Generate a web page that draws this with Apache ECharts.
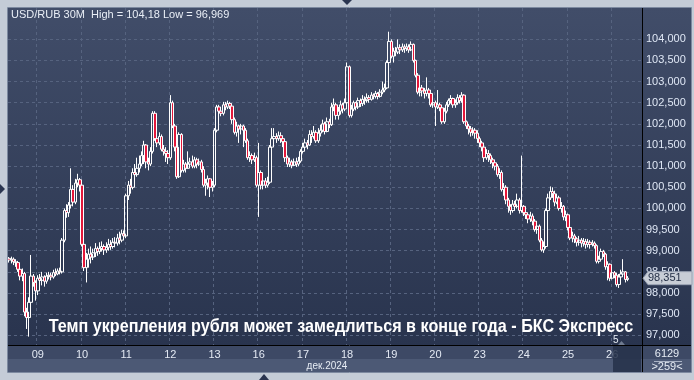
<!DOCTYPE html>
<html><head><meta charset="utf-8">
<script src="https://cdn.jsdelivr.net/npm/echarts@6/dist/echarts.min.js"></script>
<style>html,body{margin:0;padding:0;background:#c4ccd7;}#c{width:694px;height:380px;}</style>
</head><body><div id="c"></div>
<script>
// ---- data ----
const dayNames   = ['06','09','10','11','12','13','16','17','18','19','20','23','24','25','26'];
const dayCandles = [13,20,20,20,20,20,20,20,20,20,20,20,20,20,8];
const emptySlots = 6;
const firstOpen = 98.82;
const closes = [
 98.78,98.80,98.74,98.72,98.56,98.40,98.46,97.55,97.42,97.78,98.40,98.25,98.05,
 98.35,98.30,98.38,98.28,98.40,98.42,98.38,98.48,98.45,98.52,98.50,99.25,99.95,99.90,100.08,100.45,100.15,100.60,100.68,100.55,
 99.15,98.60,98.80,98.92,98.85,98.95,99.05,98.98,99.05,99.10,99.02,99.08,99.15,99.10,99.20,99.18,99.30,99.25,99.40,99.35,
 100.30,100.55,100.50,100.85,100.80,100.95,101.05,101.25,101.50,101.10,101.05,101.35,102.25,101.65,101.55,101.70,101.40,101.35,101.30,101.20,
 102.50,101.95,101.45,100.75,101.75,100.90,101.05,100.95,101.05,101.10,101.00,101.15,101.05,101.10,100.92,100.55,100.60,100.70,100.50,100.55,
 101.85,102.40,102.30,102.25,102.45,102.40,102.48,102.42,102.10,101.80,101.95,101.88,101.95,101.85,101.60,101.20,101.25,101.15,101.20,100.55,
 100.85,100.55,100.65,100.55,100.62,101.45,101.65,101.70,101.65,101.72,101.65,101.58,101.20,101.05,101.10,101.02,101.10,101.05,101.12,101.35,
 101.45,101.55,101.50,101.75,101.70,101.80,101.60,101.78,101.85,102.00,101.82,102.05,101.98,102.40,102.45,102.20,102.30,102.45,102.35,102.50,
 103.35,102.20,102.35,102.50,102.40,102.55,102.48,102.58,102.55,102.62,102.58,102.68,102.65,102.72,102.65,102.75,102.80,102.85,103.45,103.95,
 103.60,103.72,103.70,103.80,103.75,103.82,103.78,103.82,103.75,103.88,103.50,103.15,102.75,102.85,102.78,102.72,102.80,102.72,102.45,102.50,
 102.40,102.45,102.38,102.05,102.30,102.45,102.55,102.60,102.45,102.50,102.62,102.55,102.68,102.05,101.95,101.88,101.80,101.85,101.78,101.65,
 101.55,101.45,101.20,101.30,101.25,101.15,101.08,101.00,100.80,100.85,100.45,100.50,100.20,100.05,99.95,100.10,100.05,100.20,99.95,100.05,
 99.90,99.85,99.75,99.82,99.70,99.50,99.58,99.25,99.02,99.10,99.95,100.25,100.40,100.35,100.15,100.25,100.00,100.05,99.80,99.85,
 99.55,99.30,99.35,99.28,99.20,99.25,99.18,99.22,99.15,99.20,99.15,99.18,99.12,98.75,98.80,98.98,98.92,98.62,98.68,98.35,
 98.48,98.42,98.20,98.38,98.45,98.50,98.32,98.351
];
const highs = [
 98.85,98.86,98.84,98.80,98.76,98.60,98.58,98.50,97.65,97.90,98.90,98.45,98.30,
 98.42,98.45,98.50,98.42,98.48,98.50,98.48,98.55,98.58,98.58,98.60,99.30,100.00,100.10,100.15,100.95,100.55,100.70,100.82,100.72,
 100.58,99.20,98.95,99.05,99.10,99.05,99.18,99.10,99.20,99.22,99.15,99.20,99.28,99.25,99.30,99.32,99.40,99.45,99.50,99.48,
 100.35,100.65,100.70,100.95,101.05,101.20,101.25,101.35,101.60,101.52,101.20,101.45,102.30,102.30,101.75,101.80,101.75,101.50,101.45,101.38,
 102.68,102.55,102.00,101.50,101.80,101.78,101.15,101.10,101.35,101.20,101.25,101.22,101.20,101.18,101.15,101.00,100.70,100.78,100.72,100.65,
 101.90,102.45,102.45,102.40,102.52,102.52,102.55,102.52,102.48,102.15,102.05,101.98,102.00,101.98,101.90,101.65,101.35,101.30,101.32,101.25,
 101.55,100.90,100.75,100.72,100.75,101.50,101.90,101.90,101.78,101.82,101.80,101.72,101.62,101.25,101.20,101.15,101.18,101.20,101.22,101.40,
 101.55,101.65,101.62,101.85,101.85,101.95,101.85,101.90,101.98,102.10,102.05,102.15,102.12,102.50,102.60,102.50,102.40,102.55,102.50,102.60,
 103.45,103.38,102.45,102.55,102.52,102.62,102.60,102.68,102.65,102.72,102.68,102.75,102.72,102.78,102.75,102.82,103.00,102.95,103.50,104.18,
 104.00,103.80,103.82,104.00,103.88,103.90,103.88,103.90,103.88,103.95,103.90,103.52,103.20,102.95,102.92,102.85,103.10,102.85,102.78,102.60,
 102.55,102.80,102.50,102.42,102.38,102.52,102.60,102.68,102.62,102.58,102.70,102.68,102.75,102.70,102.08,102.00,101.95,101.92,101.90,101.85,
 101.70,101.60,101.50,101.40,101.38,101.30,101.20,101.15,101.05,100.95,100.90,100.60,100.55,100.25,100.10,100.20,100.18,100.35,100.25,101.25,
 100.08,100.00,99.90,99.92,99.88,99.75,99.70,99.62,99.30,99.22,100.00,100.35,100.52,100.50,100.42,100.35,100.30,100.15,100.08,99.95,
 99.88,99.60,99.45,99.40,99.32,99.35,99.30,99.30,99.28,99.28,99.25,99.25,99.22,99.15,98.88,99.05,99.02,98.95,98.75,98.70,
 98.55,98.52,98.48,98.45,98.55,98.80,98.52,98.40
];
const lows = [
 98.72,98.70,98.66,98.62,98.50,98.30,98.28,97.45,97.15,96.969,97.75,98.15,97.82,
 97.95,98.10,98.18,98.15,98.22,98.32,98.30,98.34,98.40,98.42,98.44,98.46,99.20,99.78,99.80,100.00,100.05,100.10,100.50,100.40,
 99.10,98.52,98.25,98.60,98.70,98.78,98.85,98.88,98.92,98.98,98.90,98.95,99.00,99.02,99.05,99.08,99.12,99.15,99.20,99.25,
 99.30,100.20,100.35,100.45,100.65,100.75,100.85,101.00,101.05,100.95,100.90,101.00,101.30,101.60,101.45,101.50,101.35,101.25,101.10,101.05,
 101.15,101.90,101.35,100.70,100.72,100.85,100.85,100.85,100.95,100.98,100.95,100.95,100.95,101.00,100.85,100.50,100.30,100.45,100.27,100.40,
 100.50,101.80,102.20,102.18,102.20,102.32,102.35,102.35,102.00,101.75,101.70,101.55,101.75,101.45,101.55,101.15,101.10,101.05,101.10,100.50,
 99.80,100.45,100.45,100.48,100.50,100.58,101.40,101.58,101.55,101.60,101.55,101.45,101.10,100.98,100.98,100.95,101.00,100.98,101.00,101.08,
 101.30,101.40,101.40,101.48,101.55,101.65,101.55,101.55,101.70,101.80,101.75,101.80,101.90,101.95,102.30,102.10,102.10,102.22,102.25,102.30,
 102.45,102.15,102.15,102.30,102.32,102.35,102.40,102.42,102.45,102.50,102.50,102.55,102.58,102.60,102.58,102.62,102.70,102.75,102.82,103.40,
 103.55,103.45,103.60,103.65,103.65,103.70,103.68,103.72,103.68,103.72,103.45,103.10,102.70,102.65,102.65,102.60,102.65,102.60,102.40,102.38,
 101.95,102.35,102.30,102.00,102.00,102.25,102.40,102.48,102.38,102.38,102.45,102.48,102.50,102.00,101.88,101.75,101.70,101.72,101.65,101.55,
 101.45,101.35,101.10,101.15,101.10,101.05,100.95,100.90,100.75,100.70,100.40,100.30,100.10,99.90,99.85,99.90,99.95,100.00,99.88,99.90,
 99.82,99.75,99.65,99.68,99.60,99.45,99.40,99.20,98.98,98.95,99.05,99.90,100.20,100.25,100.05,100.10,99.95,99.90,99.72,99.70,
 99.48,99.25,99.20,99.18,99.10,99.12,99.08,99.10,99.05,99.08,99.05,99.10,99.05,98.70,98.70,98.78,98.85,98.55,98.30,98.28,
 98.32,98.35,98.15,98.12,98.30,98.38,98.25,98.28
];
const yMin = 97, yMax = 104, yStep = 0.5;
const headerText = 'USD/RUB 30M  High = 104,18 Low = 96,969';
const titleText = 'Темп укрепления рубля может замедлиться в конце года - БКС Экспресс';
const monthText = 'дек.2024';
const lastPriceText = '98,351';
const volumeText = '6129';
const countText = '>259<';
const pageText = '5';

// ---- build ----
const cats = [];
dayNames.forEach((d, di) => { for (let k = 0; k < dayCandles[di]; k++) cats.push(d + '|' + k); });
for (let k = 0; k < emptySlots; k++) cats.push('|e' + k);
const candles = closes.map((c, i) => [i === 0 ? firstOpen : closes[i - 1], c, lows[i], highs[i]]);
const isDayStart = (idx, v) => { const s = String(v); return s.endsWith('|0') && !s.startsWith(dayNames[0]); };
const FONT = 'Liberation Sans';
const gridColor = '#56637f';

const chart = echarts.init(document.getElementById('c'), null, {renderer: 'canvas'});
chart.setOption({
  animation: false,
  backgroundColor: '#c4ccd7',
  grid: [
    {left: 8, right: 52, top: 39.3, height: 296},
    {left: 8, right: 52, top: 8, height: 337}
  ],
  xAxis: [
    {type: 'category', gridIndex: 0, data: cats, show: false},
    {type: 'category', gridIndex: 1, data: cats,
      axisLine: {show: false}, axisTick: {show: false},
      axisLabel: {interval: isDayStart, formatter: v => v.split('|')[0], color: '#e3e9f3', fontSize: 11, fontFamily: FONT, margin: 4},
      splitLine: {show: true, interval: isDayStart, lineStyle: {color: gridColor, type: [3, 3], width: 1}}}
  ],
  yAxis: [
    {type: 'value', gridIndex: 0, position: 'right', min: yMin, max: yMax, interval: yStep,
      axisLine: {show: false}, axisTick: {show: false},
      axisLabel: {formatter: v => v.toFixed(3).replace('.', ','), color: '#dfe7f5', fontSize: 11, fontFamily: FONT, margin: 4},
      splitLine: {show: true, lineStyle: {color: gridColor, type: [3, 3], width: 1}}},
    {type: 'value', gridIndex: 1, show: false, min: 0, max: 1, splitLine: {show: false}}
  ],
  series: [
    {type: 'candlestick', xAxisIndex: 0, yAxisIndex: 0, data: candles, clip: false, barWidth: 3,
      itemStyle: {color: 'rgba(0,0,0,0)', color0: '#e3173a', borderColor: '#ffffff', borderColor0: '#ffffff', borderWidth: 1}},
    {type: 'line', xAxisIndex: 1, yAxisIndex: 1, data: [], silent: true}
  ]
});

const ty = chart.convertToPixel({yAxisIndex: 0}, closes[closes.length - 1]);
const bgGrad = {type: 'linear', x: 0, y: 0, x2: 0, y2: 1, colorStops: [{offset: 0, color: '#414d69'}, {offset: 1, color: '#29344e'}]};
chart.setOption({
  graphic: {elements: [
    {type: 'rect', z: -10, shape: {x: 8, y: 8, width: 634, height: 337}, style: {fill: bgGrad}},
    {type: 'rect', z: -10, shape: {x: 643, y: 8, width: 48, height: 337}, style: {fill: bgGrad}},
    {type: 'rect', z: -10, shape: {x: 8, y: 346, width: 683, height: 13}, style: {fill: '#3d4965'}},
    {type: 'rect', z: -10, shape: {x: 8, y: 359, width: 683, height: 13}, style: {fill: '#4c5975'}},
    {type: 'rect', z: 50, shape: {x: 7.5, y: 7.5, width: 684, height: 365}, style: {fill: null, stroke: '#7d8aa0', lineWidth: 1}},
    {type: 'rect', z: 50, shape: {x: 613, y: 346, width: 28, height: 26}, style: {fill: 'rgba(38,49,74,0.85)'}},
    {type: 'line', z: 50, shape: {x1: 642.5, y1: 8, x2: 642.5, y2: 372}, style: {stroke: '#000000', lineWidth: 1}},
    {type: 'line', z: 50, shape: {x1: 8, y1: 345.5, x2: 691, y2: 345.5}, style: {stroke: '#000000', lineWidth: 1}},
    {type: 'line', z: 50, shape: {x1: 654, y1: 361.5, x2: 682, y2: 361.5}, style: {stroke: '#aab4c6', lineWidth: 1}},
    {type: 'text', z: 50, style: {text: headerText, x: 11, y: 15, fill: '#e9eef6', font: '11px "' + FONT + '"', textVerticalAlign: 'middle'}},
    {type: 'text', z: 60, originX: 341, originY: 327, scaleX: 0.85,
      style: {text: titleText, x: 341, y: 327, fill: '#ffffff', font: 'bold 19px "' + FONT + '"', textAlign: 'center', textVerticalAlign: 'middle'}},
    {type: 'text', z: 50, style: {text: monthText, x: 327, y: 366, fill: '#e6ecf4', font: '10px "' + FONT + '"', textAlign: 'center', textVerticalAlign: 'middle'}},
    {type: 'text', z: 50, style: {text: volumeText, x: 667, y: 354, fill: '#e6ecf4', font: '11px "' + FONT + '"', textAlign: 'center', textVerticalAlign: 'middle'}},
    {type: 'text', z: 50, style: {text: countText, x: 667, y: 367, fill: '#e6ecf4', font: '11px "' + FONT + '"', textAlign: 'center', textVerticalAlign: 'middle'}},
    {type: 'text', z: 50, style: {text: pageText, x: 613, y: 340, fill: '#e6ecf4', font: '10px "' + FONT + '"', textVerticalAlign: 'middle'}},
    {type: 'polygon', z: 50, shape: {points: [[618, 345], [625, 345], [621.5, 341]]}, style: {fill: '#6f7b90'}},
    {type: 'polygon', z: 50, shape: {points: [[342, 0], [352, 0], [347, 5]]}, style: {fill: '#2a3550'}},
    {type: 'polygon', z: 50, shape: {points: [[0, 184], [0, 194], [5, 189]]}, style: {fill: '#2a3550'}},
    {type: 'polygon', z: 50, shape: {points: [[259, 380], [269, 380], [264, 374]]}, style: {fill: '#2a3550'}},
    {type: 'polygon', z: 70, shape: {points: [[643, ty], [648, ty - 6.5], [692, ty - 6.5], [692, ty + 6.5], [648, ty + 6.5]]}, style: {fill: '#c8cdd6', stroke: '#9aa3b3', lineWidth: 1}},
    {type: 'text', z: 71, style: {text: lastPriceText, x: 648, y: ty, fill: '#1f2a42', font: '11px "' + FONT + '"', textVerticalAlign: 'middle'}}
  ]}
});
</script>
</body></html>
